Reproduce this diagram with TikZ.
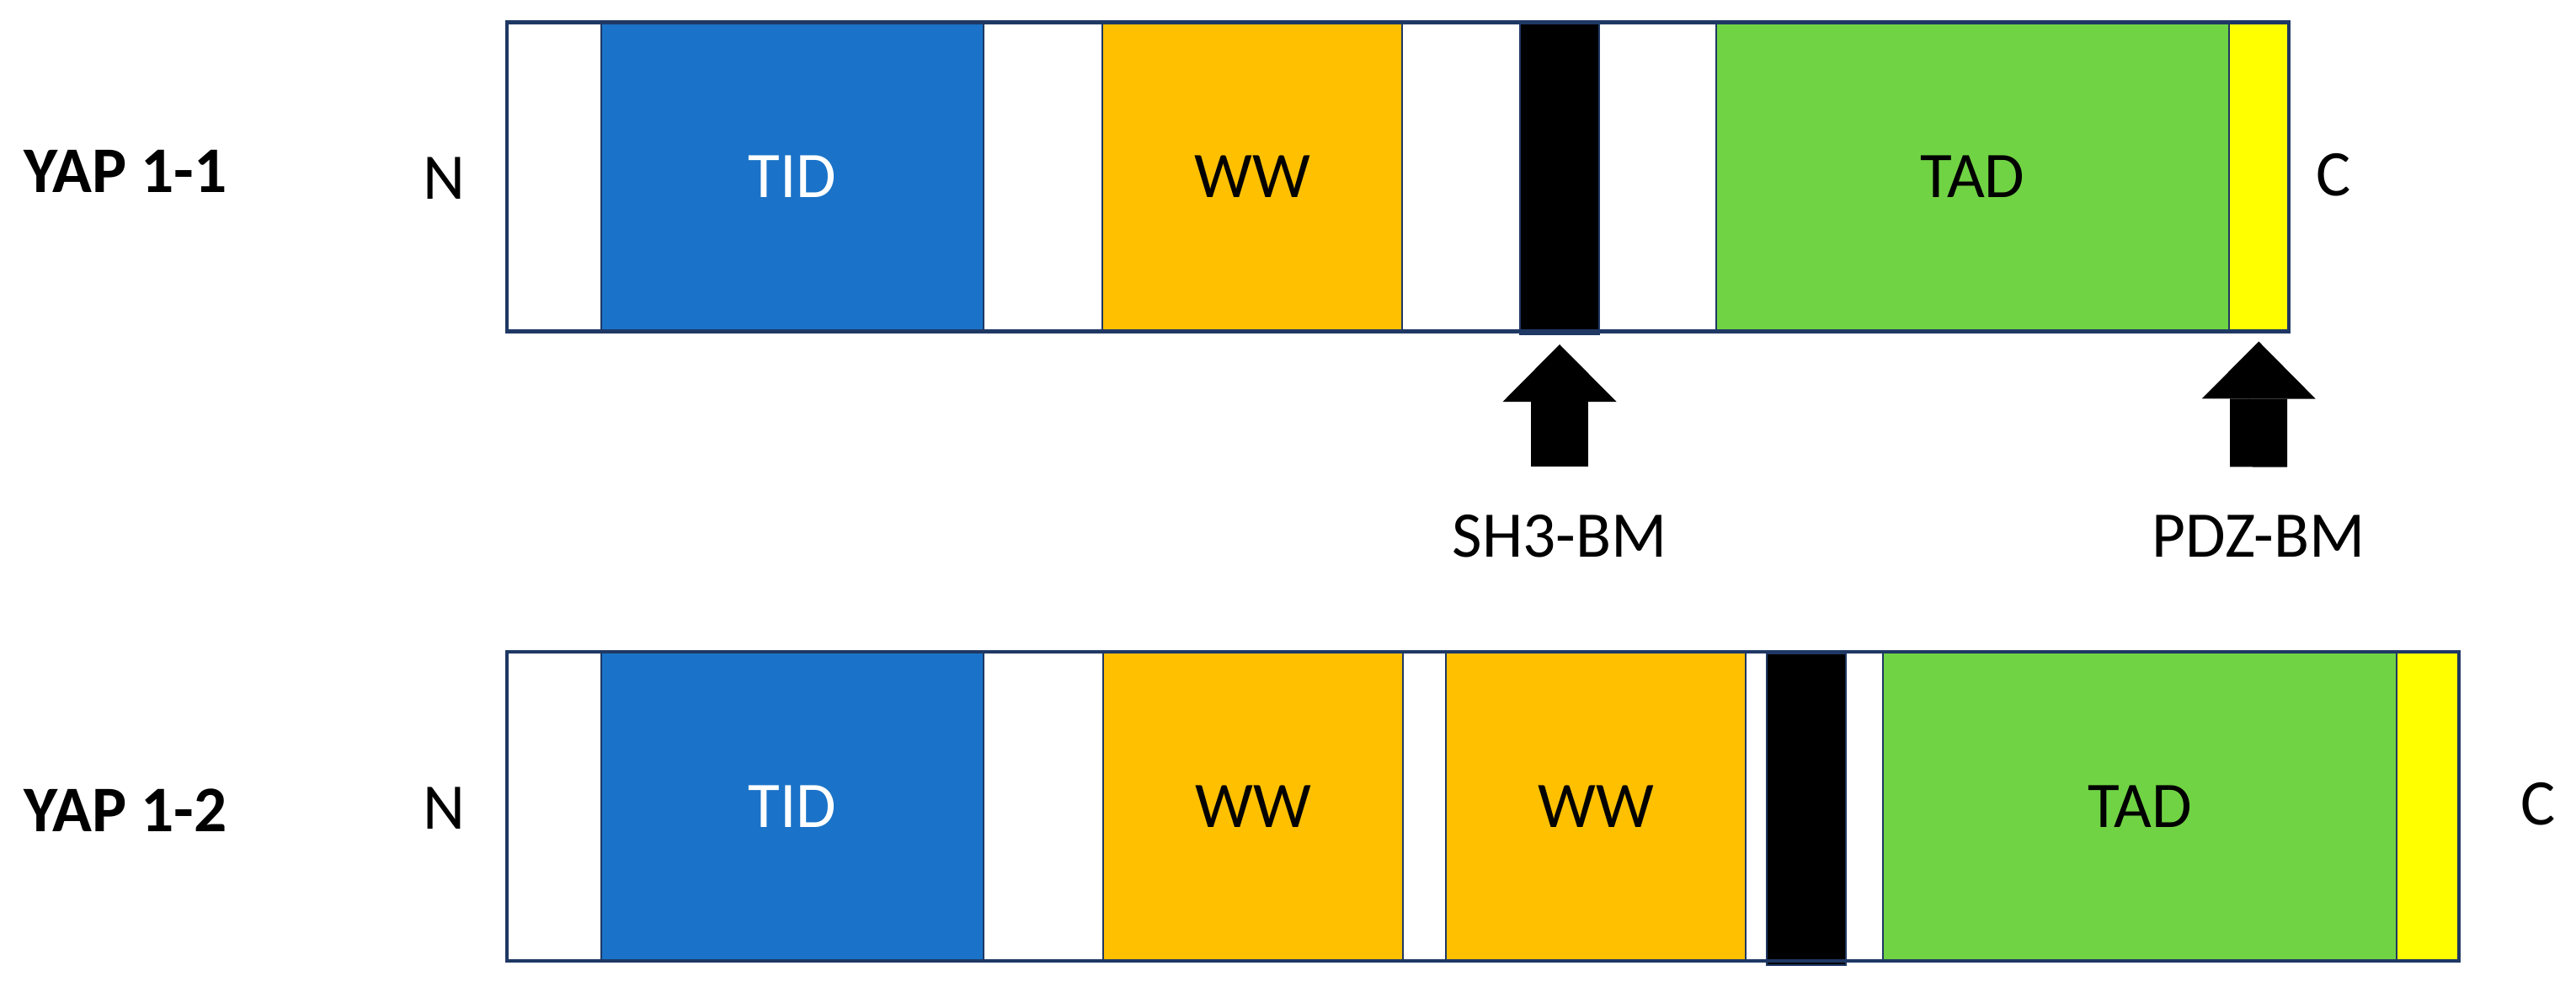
\documentclass[tikz,border=0pt]{standalone}
\usepackage{fontspec}
\setmainfont{Carlito}
\usepackage{tikz}
\usetikzlibrary{arrows.meta,positioning}
\definecolor{tidblue}{RGB}{26,115,200}
\definecolor{wwgold}{RGB}{255,192,0}
\definecolor{tadgreen}{RGB}{112,211,68}
\definecolor{pdzyellow}{RGB}{255,255,0}
\definecolor{edgenavy}{RGB}{31,56,100}

\begin{document}
\begin{tikzpicture}[
  seg/.style={rectangle,draw=edgenavy,line width=0.6pt,inner sep=0pt,outer sep=0pt,minimum height=3.67cm,font=\fontsize{22}{26}\selectfont},
  lab/.style={inner sep=0pt,font=\fontsize{22}{26}\selectfont},
  barframe/.style={draw=edgenavy,line width=1.2pt},
  bmarrow/.style={line width=0.68cm,-{Triangle[width=1.35cm,length=0.68cm,line width=0pt]},shorten <=0.57cm,shorten >=0.12cm}
]
\useasboundingbox (0,0) rectangle (30.59,-11.71);
% YAP 1-1
\node[seg,fill=white,minimum width=1.12cm] (a1) at (6.58,-2.10){};
\node[seg,fill=tidblue,text=white,minimum width=4.54cm] (tid1) at (9.41,-2.10){TID};
\node[seg,fill=white,minimum width=1.41cm] (b1) at (12.385,-2.10){};
\node[seg,fill=wwgold,minimum width=3.56cm] (ww1) at (14.87,-2.10){WW};
\node[seg,fill=white,minimum width=1.40cm] (c1) at (17.35,-2.10){};
\node[seg,fill=black,minimum width=0.94cm,minimum height=3.70cm] (sh31) at (18.52,-2.12){};
\node[seg,fill=white,minimum width=1.39cm] (d1) at (19.685,-2.10){};
\node[seg,fill=tadgreen,minimum width=6.09cm] (tad1) at (23.425,-2.10){TAD};
\node[seg,fill=pdzyellow,minimum width=0.71cm] (pdz1) at (26.825,-2.10){};
\draw[barframe] (a1.north west) rectangle (pdz1.south east);
\node[lab,font=\fontsize{22}{26}\selectfont\bfseries,anchor=west] (yap11) at (0.28,-2.03){YAP 1-1};
\node[lab] (n1) at (5.27,-2.12){N};
\node[lab] (cterm1) at (27.71,-2.08){C};
\node[lab] (sh3lab) at (18.52,-6.37){SH3-BM};
\node[lab] (pdzlab) at (26.82,-6.37){PDZ-BM};
    \draw[bmarrow] (sh3lab) -- (sh31);
      \draw[bmarrow] (pdzlab) -- (pdz1);
% YAP 1-2
\node[seg,fill=white,minimum width=1.12cm] (a2) at (6.58,-9.575){};
\node[seg,fill=tidblue,text=white,minimum width=4.54cm] (tid2) at (9.41,-9.575){TID};
\node[seg,fill=white,minimum width=1.42cm] (b2) at (12.39,-9.575){};
\node[seg,fill=wwgold,minimum width=3.56cm] (ww2a) at (14.88,-9.575){WW};
\node[seg,fill=white,minimum width=0.51cm] (c2) at (16.915,-9.575){};
\node[seg,fill=wwgold,minimum width=3.56cm] (ww2b) at (18.95,-9.575){WW};
\node[seg,fill=white,minimum width=0.25cm] (d2) at (20.855,-9.575){};
\node[seg,fill=black,minimum width=0.94cm,minimum height=3.70cm] (sh32) at (21.45,-9.61){};
\node[seg,fill=white,minimum width=0.44cm] (e2) at (22.14,-9.575){};
\node[seg,fill=tadgreen,minimum width=6.10cm] (tad2) at (25.41,-9.575){TAD};
\node[seg,fill=pdzyellow,minimum width=0.74cm] (pdz2) at (28.83,-9.575){};
\draw[barframe] (a2.north west) rectangle (pdz2.south east);
\node[lab,font=\fontsize{22}{26}\selectfont\bfseries,anchor=west] (yap12) at (0.28,-9.62){YAP 1-2};
\node[lab] (n2) at (5.27,-9.60){N};
\node[lab] (cterm2) at (30.14,-9.55){C};
\end{tikzpicture}
\end{document}
